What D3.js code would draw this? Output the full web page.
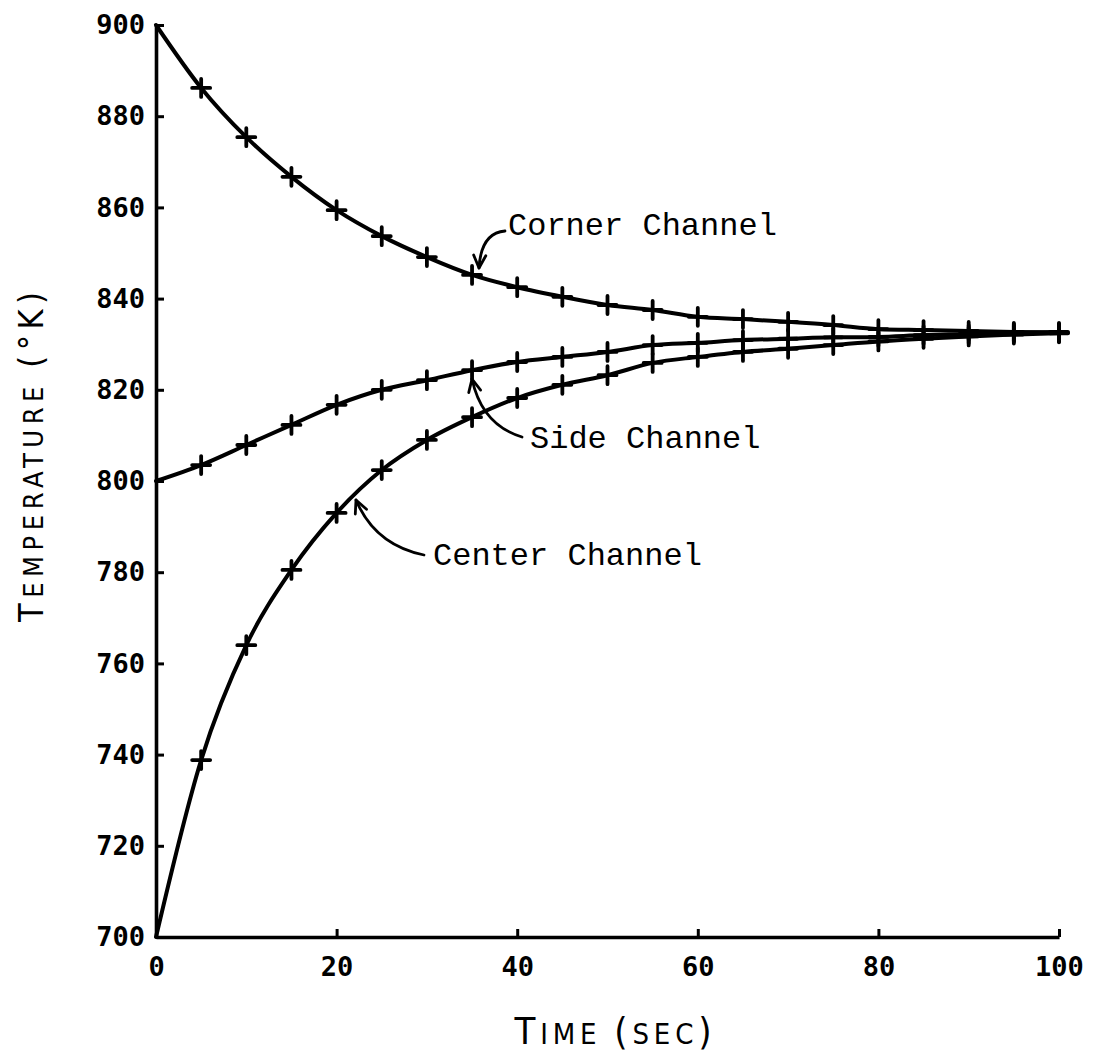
<!DOCTYPE html>
<html>
<head>
<meta charset="utf-8">
<script src="https://cdn.jsdelivr.net/npm/d3@7"></script>
<style>
  html, body { margin: 0; padding: 0; background: #fff; }
  svg { display: block; }
</style>
</head>
<body>
<svg id="chart" width="1096" height="1061"></svg>
<script>
// ---- data ----
const times = [0, 5, 10, 15, 20, 25, 30, 35, 40, 45, 50, 55, 60, 65, 70, 75, 80, 85, 90, 95, 100];
const cornerChannel = [900, 886.2, 875.4, 866.7, 859.4, 853.7, 849.1, 845.2, 842.5, 840.4, 838.6, 837.5, 836.0, 835.5, 834.9, 834.2, 833.3, 833.1, 832.9, 832.7, 832.5];
const sideChannel   = [800, 803.5, 807.9, 812.3, 816.7, 820.0, 822.1, 824.3, 826.1, 827.2, 828.3, 829.8, 830.3, 830.9, 831.2, 831.5, 831.6, 832.0, 832.2, 832.5, 832.7];
const centerChannel = [700, 738.8, 764.0, 780.5, 793.0, 802.4, 809.0, 814.0, 818.2, 821.1, 823.2, 825.9, 827.2, 828.3, 829.0, 829.8, 830.6, 831.2, 831.7, 832.1, 832.4];
const xTicks = [0, 20, 40, 60, 80, 100];
const yTicks = [700, 720, 740, 760, 780, 800, 820, 840, 860, 880, 900];
const seriesNames = ["Corner Channel", "Side Channel", "Center Channel"];

const svg = d3.select("#chart");
const x = d3.scaleLinear().domain([0, 100]).range([156, 1059]);
const y = d3.scaleLinear().domain([700, 900]).range([937, 25]);

const ink = "#000";
const tickFont = "'DejaVu Sans Mono', 'Liberation Mono', monospace";

// ---- axes ----
const yAxis = d3.axisLeft(y).tickValues(yTicks).tickSize(-8).tickSizeOuter(0).tickPadding(11)
  .tickFormat(d3.format("d"));
const xAxis = d3.axisBottom(x).tickValues(xTicks).tickSize(-8).tickSizeOuter(0).tickPadding(20)
  .tickFormat(d3.format("d"));

const gy = svg.append("g").attr("transform", `translate(${x(0)},0)`).call(yAxis);
const gx = svg.append("g").attr("transform", `translate(0,${y(700)})`).call(xAxis);
[gx, gy].forEach(g => {
  g.select(".domain").attr("stroke", ink).attr("stroke-width", 3.6);
  g.selectAll(".tick line").attr("stroke", ink).attr("stroke-width", 3);
  g.selectAll(".tick text").attr("fill", ink).style("font-family", tickFont)
    .style("font-weight", "bold").style("font-size", "27px");
});

// ---- curves ----
const all = [cornerChannel, sideChannel, centerChannel];
const line = d3.line().x((d, i) => x(times[i])).y(d => y(d)).curve(d3.curveMonotoneX);

all.forEach(vals => {
  svg.append("path").datum(vals).attr("d", line)
    .attr("fill", "none").attr("stroke", ink).attr("stroke-width", 4)
    .attr("stroke-linejoin", "round").attr("stroke-linecap", "round");
  const pts = vals.map((v, i) => [times[i], v]).filter(p => p[0] > 0);
  const g = svg.append("g");
  g.selectAll("path").data(pts).join("path")
    .attr("d", p => {
      const cx = x(p[0]), cy = y(p[1]), h = 9;
      return `M${cx - h},${cy}H${cx + h}M${cx},${cy - h}V${cy + h}`;
    })
    .attr("stroke", ink).attr("stroke-width", 3.8).attr("stroke-linecap", "round");
});

// ---- annotations ----
const annoFont = "'Liberation Mono', 'Courier New', monospace";
const labels = [
  { text: seriesNames[0], x: 508, y: 235, arrow: [[505, 231], [481, 233], [479, 268]] },
  { text: seriesNames[1], x: 530, y: 448, arrow: [[522, 437], [482, 425], [472, 379]] },
  { text: seriesNames[2], x: 433, y: 565, arrow: [[424, 555], [375, 545], [356, 500]] }
];
labels.forEach(l => {
  svg.append("text").attr("x", l.x).attr("y", l.y).text(l.text)
    .style("font-family", annoFont).style("font-size", "32px").attr("fill", ink);
  const [p0, c, p1] = l.arrow;
  svg.append("path").attr("d", `M${p0[0]},${p0[1]}Q${c[0]},${c[1]} ${p1[0]},${p1[1]}`)
    .attr("fill", "none").attr("stroke", ink).attr("stroke-width", 2.8).attr("stroke-linecap", "round");
  const ang = Math.atan2(p1[1] - c[1], p1[0] - c[0]);
  const L = 14, spread = 0.45;
  const w1 = [p1[0] - L * Math.cos(ang - spread), p1[1] - L * Math.sin(ang - spread)];
  const w2 = [p1[0] - L * Math.cos(ang + spread), p1[1] - L * Math.sin(ang + spread)];
  svg.append("path").attr("d", `M${w1[0]},${w1[1]}L${p1[0]},${p1[1]}L${w2[0]},${w2[1]}`)
    .attr("fill", "none").attr("stroke", ink).attr("stroke-width", 2.8)
    .attr("stroke-linecap", "round").attr("stroke-linejoin", "round");
});

// ---- axis titles (small caps style) ----
const titleFont = "'Liberation Sans Narrow', 'DejaVu Sans Condensed', 'Liberation Sans', sans-serif";
const xt = svg.append("text").attr("x", 613).attr("y", 1044).attr("text-anchor", "middle")
  .style("font-family", titleFont).attr("fill", ink).attr("textLength", 197).attr("lengthAdjust", "spacing");
xt.append("tspan").style("font-size", "38px").text("T");
xt.append("tspan").style("font-size", "29px").text("IME ");
xt.append("tspan").style("font-size", "38px").text("(");
xt.append("tspan").style("font-size", "29px").text("SEC");
xt.append("tspan").style("font-size", "38px").text(")");

const yt = svg.append("text").attr("transform", "translate(43,457) rotate(-90)").attr("text-anchor", "middle")
  .style("font-family", titleFont).attr("fill", ink).attr("textLength", 330).attr("lengthAdjust", "spacing");
yt.append("tspan").style("font-size", "34px").text("T");
yt.append("tspan").style("font-size", "27px").text("EMPERATURE ");
yt.append("tspan").style("font-size", "34px").text("(°K)");
</script>
</body>
</html>
